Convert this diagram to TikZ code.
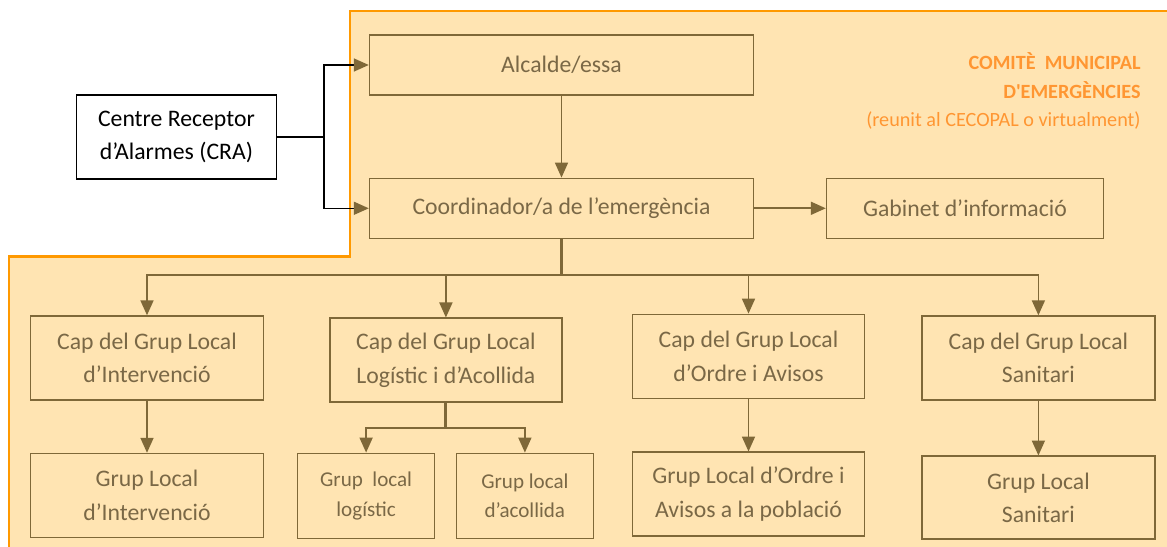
\documentclass[tikz,border=0pt]{standalone}
\usepackage{fontspec}
\setmainfont{Carlito}
\usetikzlibrary{arrows.meta}

\definecolor{panelfill}{RGB}{255,228,178}
\definecolor{panelline}{RGB}{255,153,0}
\definecolor{boxline}{RGB}{127,104,56}
\definecolor{boxtext}{RGB}{122,104,70}
\definecolor{titlec}{RGB}{255,150,50}

\tikzset{
  unit/.style={draw=boxline, line width=0.8pt, text=boxtext, align=center,
    font=\fontsize{13.5}{19}\selectfont, inner sep=0pt},
  small unit/.style={unit, font=\fontsize{12}{17}\selectfont},
  flow/.style={draw=boxline, line width=1pt,
    -{Triangle[length=0.3cm, width=0.26cm]}},
  stem/.style={draw=boxline, line width=1.7pt},
  alarm/.style={draw=black, line width=0.9pt,
    -{Triangle[length=0.3cm, width=0.26cm, color=boxline]}}
}

\begin{document}
\begin{tikzpicture}[x=0.02cm, y=-0.02cm]
\useasboundingbox (0,0) rectangle (1167,547);

% draw committee panel
\draw [fill=panelfill, draw=panelline, line width=1.2pt]
  (350,11) -- (1180,11) -- (1180,560) -- (9,560) -- (9,256.5) -- (350,256.5) -- cycle;

\node (comite) [anchor=east, align=right, inner sep=0pt, text=titlec, font=\fontsize{11.5}{16.4}\selectfont]
  at (1141,91) {\textbf{COMITÈ\ \ MUNICIPAL}\\ \textbf{D\textquotesingle EMERGÈNCIES}\\ (reunit al CECOPAL o virtualment)};

% top level
\node (cra) [draw=black, fill=white, line width=0.8pt, align=center, inner sep=0pt,
  font=\fontsize{13.5}{19}\selectfont, minimum width=200*0.02cm, minimum height=84*0.02cm]
  at (176.4,137) {Centre Receptor\\d’Alarmes (CRA)};
\node (alcalde) [unit, minimum width=384*0.02cm, minimum height=60*0.02cm] at (561.5,65) {Alcalde/essa};
\node (coord) [unit, minimum width=384*0.02cm, minimum height=60*0.02cm] at (561.5,208.3) {Coordinador/a de l’emergència};
\node (gabinet) [unit, minimum width=277*0.02cm, minimum height=60*0.02cm] at (965,208.3) {Gabinet d’informació};

% group heads
\node (capint) [unit, minimum width=233*0.02cm, minimum height=84*0.02cm] at (147,358) {Cap del Grup Local\\d’Intervenció};
\node (caplog) [unit, minimum width=232*0.02cm, minimum height=84*0.02cm] at (445.9,360.2) {Cap del Grup Local\\Logístic i d’Acollida};
\node (capord) [unit, minimum width=232*0.02cm, minimum height=84*0.02cm] at (748.5,356.3) {Cap del Grup Local\\d’Ordre i Avisos};
\node (capsan) [unit, minimum width=233*0.02cm, minimum height=84*0.02cm] at (1038.4,358) {Cap del Grup Local\\Sanitari};

% groups
\node (grint) [unit, minimum width=233*0.02cm, minimum height=84*0.02cm] at (147,495.5) {Grup Local\\d’Intervenció};
\node (grlog) [small unit, minimum width=137*0.02cm, minimum height=85*0.02cm] at (366.1,495.8) {Grup\ \ local\\logístic};
\node (gracol) [small unit, minimum width=137*0.02cm, minimum height=85*0.02cm] at (524.9,495.8) {Grup local\\d’acollida};
\node (grord) [unit, minimum width=232*0.02cm, minimum height=84*0.02cm] at (748.5,494.2) {Grup Local d’Ordre i\\Avisos a la població};
\node (grsan) [unit, minimum width=233*0.02cm, minimum height=83*0.02cm] at (1038.4,497.7) {Grup Local\\Sanitari};

% alarm lines
\coordinate (split) at (324,137);
\draw [line width=1.7pt] (cra.east) -- (split);
\draw [alarm] (split) |- (alcalde.west);
\draw [alarm] (split) |- (coord.west);

% command lines
\draw [flow] (alcalde.south) -- (coord.north);
\draw [flow] (coord.east) -- (gabinet.west);

\coordinate (bus) at (561.5,275);
\draw [stem] (coord.south) -- (bus);
\draw [flow] (bus) -| (capint.north);
\draw [flow] (bus) -| (caplog.north);
\draw [flow] (bus) -| (capord.north);
\draw [flow] (bus) -| (capsan.north);

\draw [flow] (capint.south) -- (grint.north);
\draw [flow] (capord.south) -- (grord.north);
\draw [flow] (capsan.south) -- (grsan.north);

\coordinate (logbus) at (445.9,428.3);
\draw [stem] (caplog.south) -- (logbus);
\draw [flow] (logbus) -| (grlog.north);
\draw [flow] (logbus) -| (gracol.north);

\end{tikzpicture}
\end{document}
